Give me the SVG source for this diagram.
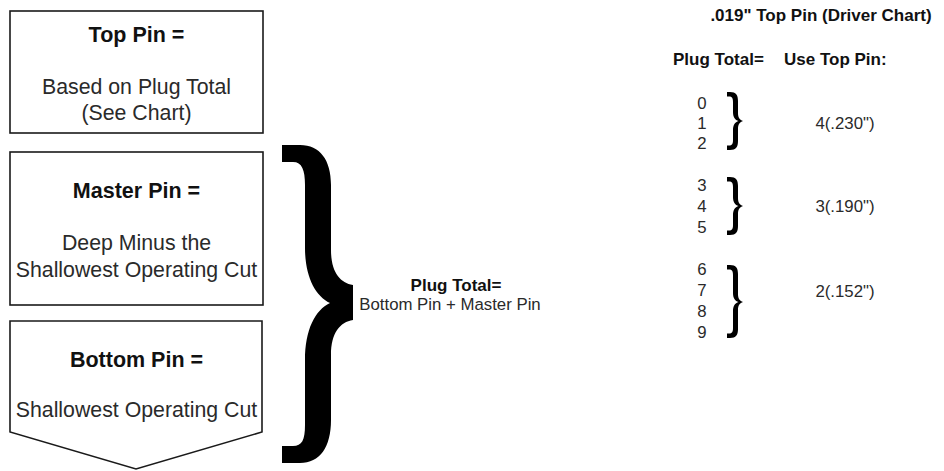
<svg xmlns="http://www.w3.org/2000/svg" width="944" height="471" viewBox="0 0 944 471">
<style>
.box{fill:#fff;stroke:#1a1a1a;stroke-width:1.6}
.t{font-family:"Liberation Sans",Arial,sans-serif;font-weight:bold;font-size:21.5px;fill:#111;text-anchor:middle}
.b{font-family:"Liberation Sans",Arial,sans-serif;font-size:21.3px;fill:#2a2a2a;text-anchor:middle}
.ct{font-family:"Liberation Sans",Arial,sans-serif;font-weight:bold;font-size:17px;fill:#111}
.cb{font-family:"Liberation Sans",Arial,sans-serif;font-size:16.8px;fill:#2a2a2a}
.br{fill:#000}
</style>
<rect width="944" height="471" fill="#fff"/>
<g id="top-pin">
<rect class="box" x="10" y="11" width="253" height="122"/>
<text class="t" x="136.5" y="42">Top Pin =</text>
<text class="b" x="136.5" y="94">Based on Plug Total</text>
<text class="b" x="136.5" y="120">(See Chart)</text>
</g>
<g id="master-pin">
<rect class="box" x="10" y="152" width="253" height="153"/>
<text class="t" x="136.5" y="198">Master Pin =</text>
<text class="b" x="136.5" y="250">Deep Minus the</text>
<text class="b" x="136.5" y="277">Shallowest Operating Cut</text>
</g>
<g id="bottom-pin">
<path class="box" d="M10,321 L262,321 L262,432 L136,469 L10,432 Z"/>
<text class="t" x="136.5" y="367">Bottom Pin =</text>
<text class="b" x="136.5" y="417">Shallowest Operating Cut</text>
</g>
<g id="connectors">
<path class="br" d="M282,145 L300,145 C320,145 331,160 331,185 L331,250 C331,272 340,283 353,285 L353,320 C340,322 331,333 331,355 L331,420 C331,447 320,463 300,463 L282,463 L282,446 L293,446 C302,446 305,440 305,425 L305,360 C305,330 315,310 330,303 C315,296 305,276 305,248 L305,185 C305,170 302,162 293,162 L282,162 Z"/>
<path class="br" d="M727,92 L730,92 C736,92 738,95 738,101 L738,113 C738,118 740,120 743,121 C740,122 738,124 738,129 L738,141 C738,147 736,150 730,150 L727,150 L727,145.5 L729,145.5 C732,145.5 733,144 733,140 L733,130 C733,125 735,122 738.5,121 C735,120 733,117 733,112 L733,102 C733,98 732,96.5 729,96.5 L727,96.5 Z"/>
<path class="br" transform="translate(0,85)" d="M727,92 L730,92 C736,92 738,95 738,101 L738,113 C738,118 740,120 743,121 C740,122 738,124 738,129 L738,141 C738,147 736,150 730,150 L727,150 L727,145.5 L729,145.5 C732,145.5 733,144 733,140 L733,130 C733,125 735,122 738.5,121 C735,120 733,117 733,112 L733,102 C733,98 732,96.5 729,96.5 L727,96.5 Z"/>
<path class="br" d="M727,265 L730,265 C736,265 738,268 738,274 L738,294 C738,299 740,301 743,302 C740,303 738,305 738,310 L738,329 C738,335 736,338 730,338 L727,338 L727,333.5 L729,333.5 C732,333.5 733,332 733,328 L733,311 C733,306 735,303 738.5,302 C735,301 733,298 733,293 L733,275 C733,271 732,269.5 729,269.5 L727,269.5 Z"/>
</g>
<g id="plug-total">
<text class="ct" x="456" y="291" text-anchor="middle" font-size="17.5">Plug Total=</text>
<text class="cb" x="450" y="310" text-anchor="middle" font-size="16">Bottom Pin + Master Pin</text>
</g>
<g id="chart">
<text class="ct" x="821" y="21" text-anchor="middle">.019" Top Pin (Driver Chart)</text>
<text class="ct" x="673" y="65">Plug Total=</text>
<text class="ct" x="784" y="65">Use Top Pin:</text>
<g class="cb" text-anchor="middle">
<text x="702" y="109">0</text>
<text x="702" y="129">1</text>
<text x="702" y="149">2</text>
<text x="702" y="191">3</text>
<text x="702" y="212">4</text>
<text x="702" y="233">5</text>
<text x="702" y="275">6</text>
<text x="702" y="296">7</text>
<text x="702" y="317">8</text>
<text x="702" y="338">9</text>
<text x="845" y="129">4(.230")</text>
<text x="845" y="212">3(.190")</text>
<text x="845" y="297">2(.152")</text>
</g>
</g>
</svg>
